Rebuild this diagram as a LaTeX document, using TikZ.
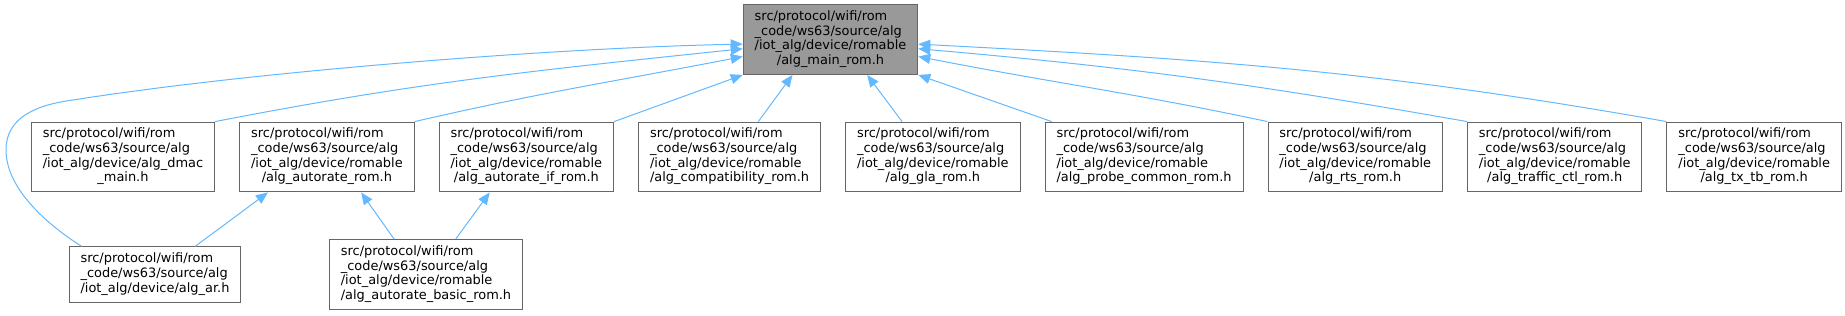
\documentclass[tikz,border=0pt]{standalone}
\usepackage{fontspec}
\setmainfont{DejaVu Sans}
\usetikzlibrary{positioning,arrows.meta}

\definecolor{deplink}{RGB}{99,184,255}
\definecolor{boxline}{RGB}{102,102,102}
\definecolor{rootfill}{RGB}{153,153,153}

% file label: first lines left, last line centred
\newcommand{\incfile}[2]{\begin{tabular}{@{}l@{}}src/protocol/wifi/rom\\\_code/ws63/source/alg\\#1\\\multicolumn{1}{@{}c@{}}{#2}\end{tabular}}
\newcommand{\romfile}[1]{\incfile{/iot\_alg/device/romable}{#1}}

\begin{document}
\begin{tikzpicture}[x=0.75pt, y=-0.75pt, node distance=18pt,
  file/.style={draw=boxline, line width=0.75pt, fill=white, inner xsep=8.6pt, inner ysep=4.2pt,
    font=\fontsize{9.7}{11}\selectfont},
  root/.style={file, fill=rootfill},
  dep/.style={deplink, line width=0.75pt, -{Triangle[length=9pt,width=7.5pt]}}]
  \useasboundingbox (0,0) rectangle (1845,315);

  \node[root] (main) at (830.5,39.5) {\romfile{/alg\_main\_rom.h}};

  \node[file] (dmac) at (123,157) {\incfile{/iot\_alg/device/alg\_dmac}{\_main.h}};
  \node[file] (autorate) [right=of dmac] {\romfile{/alg\_autorate\_rom.h}};
  \node[file] (autorateif) [right=of autorate] {\romfile{/alg\_autorate\_if\_rom.h}};
  \node[file] (compat) [right=of autorateif] {\romfile{/alg\_compatibility\_rom.h}};
  \node[file] (gla) [right=of compat] {\romfile{/alg\_gla\_rom.h}};
  \node[file] (probe) [right=of gla] {\romfile{/alg\_probe\_common\_rom.h}};
  \node[file] (rts) [right=of probe] {\romfile{/alg\_rts\_rom.h}};
  \node[file] (traffic) [right=of rts] {\romfile{/alg\_traffic\_ctl\_rom.h}};
  \node[file] (txtb) [right=of traffic] {\romfile{/alg\_tx\_tb\_rom.h}};

  \node[file] (ar) at (155,274.5) {\begin{tabular}{@{}l@{}}src/protocol/wifi/rom\\\_code/ws63/source/alg\\/iot\_alg/device/alg\_ar.h\end{tabular}};
  \node[file] (basic) at (426,274.5) {\romfile{/alg\_autorate\_basic\_rom.h}};

  \draw[dep] (ar.159) .. controls (40,220) and (6,185) .. (6,150)
    .. controls (6,118) and (35,105) .. (73,100)
    .. controls (250,72) and (550,48) .. (main.183);
  \path[dep]
    (dmac.north east) edge [out=11, in=186] (main.186)
    (autorate.north east) edge [out=13, in=191] (main.191)
    (autorateif.north east) edge (main.south west)
    (compat.51) edge (main.223)
    (gla.131) edge (main.-44)
    (probe.159) edge (main.south east)
    (rts.north west) edge [out=168, in=-11] (main.-11)
    (traffic.north west) edge [out=170, in=-5] (main.-6)
    (txtb.north west) edge [out=170, in=-3] (main.-3)
    (ar.35) edge (autorate.211)
    (basic.132) edge (autorate.-46)
    (basic.50) edge (autorateif.224);
\end{tikzpicture}
\end{document}
